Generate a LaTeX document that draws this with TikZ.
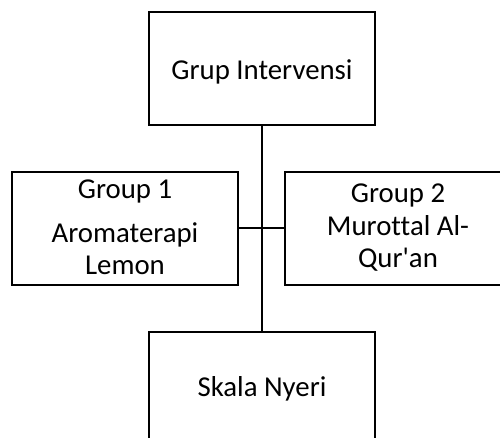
\documentclass[tikz,border=0pt]{standalone}
\usepackage{fontspec}
\setmainfont{Carlito}[RawFeature={-liga}]
\begin{document}
\begin{tikzpicture}[x=0.5pt,y=-0.5pt,
  box/.style={draw=black,line width=1pt,rectangle,minimum width=113pt,minimum height=56.5pt,inner sep=0pt},
  txt/.style={anchor=base,inner sep=0pt,font=\fontsize{14.4}{16.5}\selectfont},
  conn/.style={draw=black,line width=1pt}]
\useasboundingbox (0,0) rectangle (500,438);
\clip (0,0) rectangle (500,438);
\node[box] (top) at (262,68.5) {};
\node[box] (left) at (125,228.5) {};
\node[box] (right) at (398,228.5) {};
\node[box] (bottom) at (262,388.5) {};
\node[txt] (ttop) at (262,80) {Grup Intervensi};
\node[txt] (tl1) at (125,199) {Group 1};
\node[txt] (tl2) at (125,243) {Aromaterapi};
\node[txt] (tl3) at (125,275) {Lemon};
\node[txt] (tr1) at (398,203) {Group 2};
\node[txt] (tr2) at (398,236) {Murottal Al-};
\node[txt] (tr3) at (398,268) {Qur\textquotesingle an};
\node[txt] (tbot) at (262,397) {Skala Nyeri};
\path[conn] (top.south) -- (bottom.north);
\path[conn] (left.east) -- (right.west);
\end{tikzpicture}
\end{document}
